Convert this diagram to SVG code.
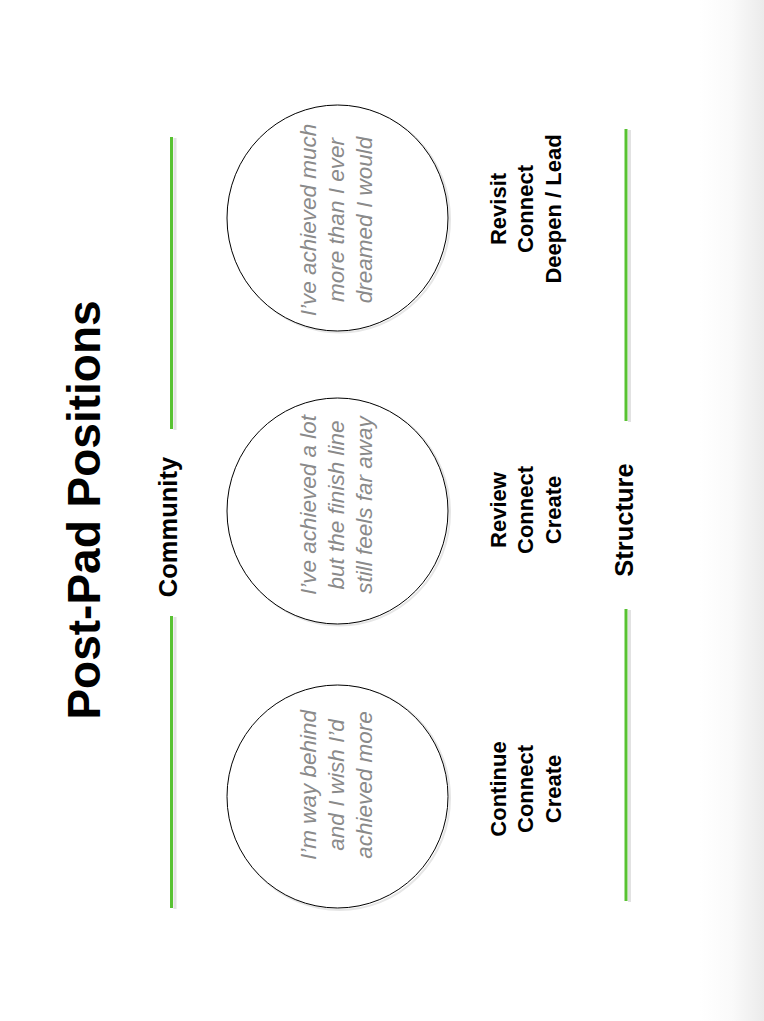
<svg xmlns="http://www.w3.org/2000/svg" width="764" height="1021" viewBox="0 0 764 1021">
  <defs>
    <linearGradient id="edge" x1="0" y1="0" x2="1" y2="0">
      <stop offset="0" stop-color="#ffffff"/>
      <stop offset="0.5" stop-color="#fafafa"/>
      <stop offset="1" stop-color="#ebebeb"/>
    </linearGradient>
  </defs>
  <style>
    .title { font-family: "Liberation Sans", Arial, sans-serif; font-weight: bold; font-size: 46px; fill: #000; }
    .axis { font-family: "Liberation Sans", Arial, sans-serif; font-weight: bold; font-size: 25.5px; fill: #000; }
    .quote { font-family: "Liberation Sans", Arial, sans-serif; font-style: italic; font-size: 22.5px; fill: #8a8a8a; }
    .label { font-family: "Liberation Sans", Arial, sans-serif; font-weight: bold; font-size: 22px; fill: #000; }
    .gline { stroke: #58c232; stroke-width: 3; }
    .gshadow { stroke: #e2e2e2; stroke-width: 3; }
    .circ { fill: #fff; stroke: #000; stroke-width: 1; }
    .cshadow { fill: none; stroke: #e6e6e6; stroke-width: 2; }
  </style>
  <rect x="0" y="0" width="764" height="1021" fill="#fff"/>
  <rect x="700" y="0" width="64" height="1021" fill="url(#edge)"/>

  <g id="title">
    <text class="title" text-anchor="middle" transform="translate(100,510) rotate(-90)">Post-Pad Positions</text>
  </g>

  <g id="connectors">
    <line class="gshadow" x1="175" y1="138" x2="175" y2="430"/>
    <line class="gshadow" x1="175" y1="617" x2="175" y2="909"/>
    <line class="gline" x1="171.5" y1="137" x2="171.5" y2="429"/>
    <line class="gline" x1="171.5" y1="616" x2="171.5" y2="908"/>
    <line class="gshadow" x1="629.5" y1="130" x2="629.5" y2="422"/>
    <line class="gshadow" x1="629.5" y1="610" x2="629.5" y2="902"/>
    <line class="gline" x1="626" y1="129" x2="626" y2="421"/>
    <line class="gline" x1="626" y1="609" x2="626" y2="901"/>
  </g>

  <g id="community">
    <text class="axis" text-anchor="middle" transform="translate(177,527) rotate(-90)">Community</text>
  </g>
  <g id="structure">
    <text class="axis" text-anchor="middle" transform="translate(633,520) rotate(-90)">Structure</text>
  </g>

  <g id="circle-behind">
    <ellipse class="cshadow" cx="339.5" cy="798" rx="110.5" ry="112"/>
    <ellipse class="circ" cx="337.5" cy="796.5" rx="110.5" ry="111.5"/>
    <text class="quote" text-anchor="middle" transform="translate(316,785) rotate(-90)">I’m way behind</text>
    <text class="quote" text-anchor="middle" transform="translate(344,785) rotate(-90)">and I wish I’d</text>
    <text class="quote" text-anchor="middle" transform="translate(372,785) rotate(-90)">achieved more</text>
  </g>

  <g id="circle-lot">
    <ellipse class="cshadow" cx="339.5" cy="512.5" rx="110.5" ry="113"/>
    <ellipse class="circ" cx="337.5" cy="511" rx="110.5" ry="113"/>
    <text class="quote" text-anchor="middle" transform="translate(316,505) rotate(-90)">I’ve achieved a lot</text>
    <text class="quote" text-anchor="middle" transform="translate(344,505) rotate(-90)">but the finish line</text>
    <text class="quote" text-anchor="middle" transform="translate(372,505) rotate(-90)">still feels far away</text>
  </g>

  <g id="circle-much">
    <ellipse class="cshadow" cx="339.5" cy="219.5" rx="110.5" ry="113"/>
    <ellipse class="circ" cx="337.5" cy="218" rx="110.5" ry="113"/>
    <text class="quote" text-anchor="middle" transform="translate(316,220) rotate(-90)">I’ve achieved much</text>
    <text class="quote" text-anchor="middle" transform="translate(344,220) rotate(-90)">more than I ever</text>
    <text class="quote" text-anchor="middle" transform="translate(372,220) rotate(-90)">dreamed I would</text>
  </g>

  <g id="label-continue">
    <text class="label" text-anchor="middle" transform="translate(506,789) rotate(-90)">Continue</text>
    <text class="label" text-anchor="middle" transform="translate(533,789) rotate(-90)">Connect</text>
    <text class="label" text-anchor="middle" transform="translate(561,789) rotate(-90)">Create</text>
  </g>

  <g id="label-review">
    <text class="label" text-anchor="middle" transform="translate(506,510) rotate(-90)">Review</text>
    <text class="label" text-anchor="middle" transform="translate(533,510) rotate(-90)">Connect</text>
    <text class="label" text-anchor="middle" transform="translate(561,510) rotate(-90)">Create</text>
  </g>

  <g id="label-revisit">
    <text class="label" text-anchor="middle" transform="translate(506,209) rotate(-90)">Revisit</text>
    <text class="label" text-anchor="middle" transform="translate(533,209) rotate(-90)">Connect</text>
    <text class="label" text-anchor="middle" transform="translate(561,209) rotate(-90)">Deepen / Lead</text>
  </g>
</svg>
